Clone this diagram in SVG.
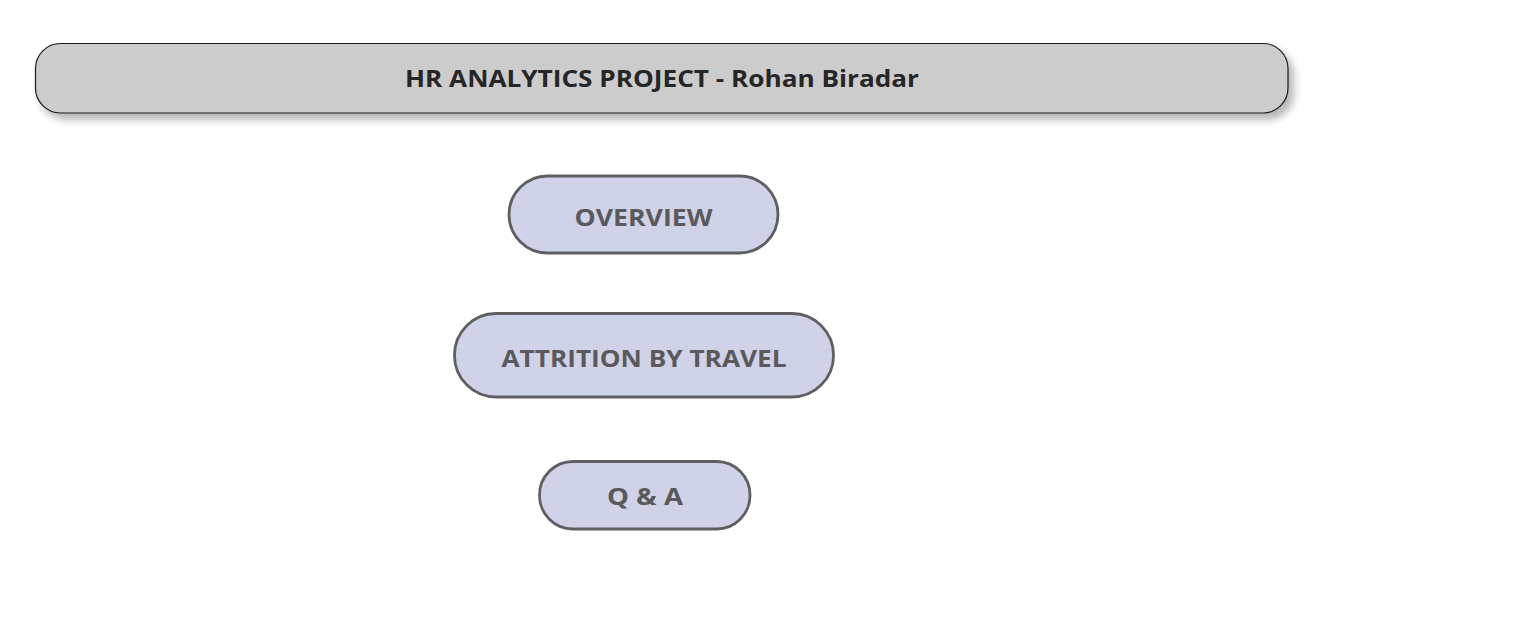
<svg xmlns="http://www.w3.org/2000/svg" width="1520" height="635" viewBox="0 0 1520 635">
<defs>
<filter id="sh" x="-5%" y="-30%" width="110%" height="180%">
<feGaussianBlur in="SourceAlpha" stdDeviation="4"/>
<feOffset dx="5" dy="6" result="b"/>
<feComponentTransfer><feFuncA type="linear" slope="0.3"/></feComponentTransfer>
<feMerge><feMergeNode/><feMergeNode in="SourceGraphic"/></feMerge>
</filter>
<style>
.node rect{fill:#d0d2e8;stroke:#5f5e60;stroke-width:2.8}
.node text{font-family:"Open Sans","Noto Sans",sans-serif;font-weight:700;font-size:24px;fill:#5a595b;text-anchor:middle}
.title text{font-family:"Open Sans","Noto Sans",sans-serif;font-weight:700;font-size:24px;fill:#262626;text-anchor:middle}
</style>
</defs>
<rect width="1520" height="635" fill="#ffffff"/>
<g id="title" class="title">
<rect x="35.5" y="43.5" width="1252.5" height="69.5" rx="25" ry="25" fill="#cccccc" stroke="#1a1a1a" stroke-width="1.2" filter="url(#sh)"/>
<text x="662" y="86.5" textLength="514" lengthAdjust="spacingAndGlyphs">HR ANALYTICS PROJECT - Rohan Biradar</text>
</g>
<g id="connectors"></g>
<g id="overview" class="node">
<rect x="509" y="176" width="269" height="77" rx="38.5" ry="38.5"/>
<text x="643.5" y="225.5" textLength="138" lengthAdjust="spacingAndGlyphs">OVERVIEW</text>
</g>
<g id="attrition" class="node">
<rect x="454.5" y="313.5" width="379" height="83.5" rx="41.5" ry="41.5"/>
<text x="644" y="366.5" textLength="285" lengthAdjust="spacingAndGlyphs">ATTRITION BY TRAVEL</text>
</g>
<g id="qa" class="node">
<rect x="539.5" y="461.5" width="210.5" height="67.5" rx="33.5" ry="33.5"/>
<text x="645" y="504.5" textLength="76" lengthAdjust="spacingAndGlyphs">Q &amp; A</text>
</g>
</svg>
